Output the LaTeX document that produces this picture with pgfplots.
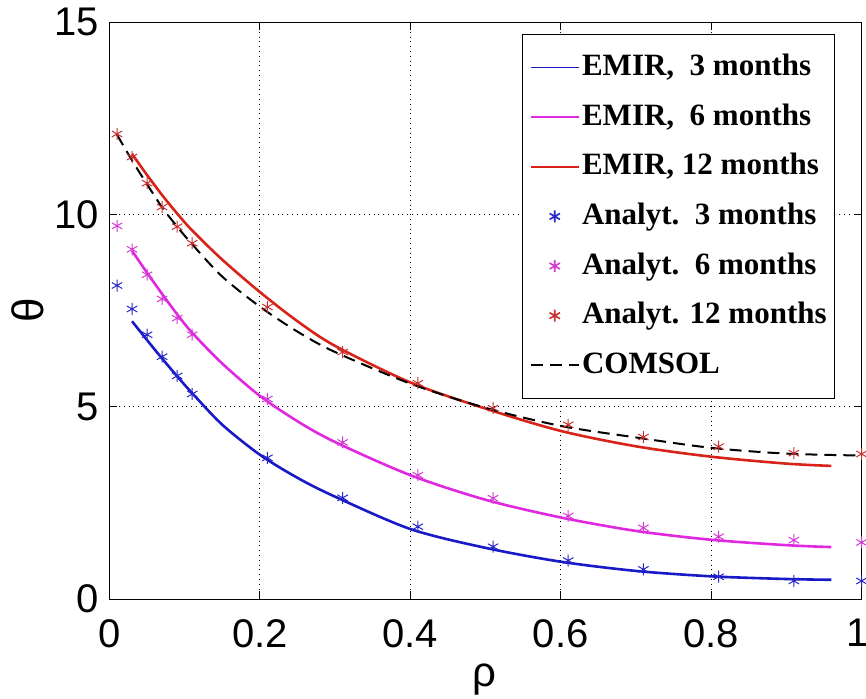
\documentclass[border=0pt]{standalone}
\usepackage{fontspec}
\setmainfont{Liberation Sans}
\newfontfamily\legfont{Liberation Serif}
\usepackage{pgfplots}
\pgfplotsset{compat=1.18}
\definecolor{eblue}{RGB}{25,25,200}
\definecolor{emag}{RGB}{225,40,225}
\definecolor{ered}{RGB}{215,35,25}
\definecolor{sblue}{RGB}{40,40,200}
\definecolor{smag}{RGB}{210,60,210}
\definecolor{sred}{RGB}{200,50,50}
\begin{document}
\begin{tikzpicture}
\useasboundingbox (-54.75pt,-49.5pt) rectangle (378.25pt,299.5pt);
\begin{axis}[
  at={(0,0)}, anchor=south west,
  scale only axis, width=376pt, height=288.5pt,
  xmin=0, xmax=1, ymin=0, ymax=15,
  xtick={0,0.2,0.4,0.6,0.8,1}, ytick={0,5,10,15},
  xticklabels={0,0.2,0.4,0.6,0.8,\makebox[0pt][c]{\hspace{-4pt}1}},
  grid=major, grid style={dotted, black, line width=0.5pt},
  tick align=inside, major tick length=4pt,
  axis line style={line width=0.5pt},
  tick style={black, line width=0.5pt},
  /pgf/number format/assume math mode=true,
  ticklabel style={font=\fontsize{20}{20}\selectfont},
  xticklabel style={inner sep=0pt, anchor=north, yshift=-10pt},
  yticklabel style={inner sep=0pt, anchor=east, xshift=-5pt},
  xlabel={ρ}, ylabel={θ},
  xlabel style={font=\fontsize{21}{21}\selectfont, at={(axis description cs:0.498,-0.14)}, anchor=center},
  ylabel style={font=\fontsize{22}{22}\selectfont, at={(axis description cs:-0.109,0.5)}, anchor=center},
  legend style={at={(0.5485,0.979)}, anchor=north west, draw=black, line width=0.5pt,
    font=\legfont\bfseries\fontsize{15.5}{15.5}\selectfont,
    inner xsep=4pt, inner ysep=9.5pt, row sep=10.8pt,
    nodes={inner sep=0pt, text height=11pt, text depth=3pt},
    /tikz/every odd column/.append style={column sep=1.5pt}},
  legend cell align=left,
  legend image code/.code={\draw[mark repeat=2,mark phase=2,#1] plot coordinates {(0pt,0pt) (11.75pt,0pt) (23.5pt,0pt)};},
  legend image post style={line width=0.8pt},
]
\addplot[eblue, line width=1.3pt, smooth] coordinates {
(0.03,7.22) (0.05,6.73) (0.07,6.25) (0.09,5.79) (0.11,5.35) (0.15,4.53) (0.2,3.75) (0.25,3.15) (0.3,2.66) (0.4,1.82) (0.5,1.33) (0.6,0.97) (0.7,0.73) (0.8,0.59) (0.9,0.52) (0.96,0.50)};
\addlegendentry{EMIR,\ \ 3 months}
\addplot[emag, line width=1.3pt, smooth] coordinates {
(0.03,9.05) (0.05,8.48) (0.07,7.93) (0.09,7.40) (0.11,6.92) (0.15,6.12) (0.2,5.28) (0.25,4.62) (0.3,4.08) (0.4,3.22) (0.5,2.58) (0.6,2.12) (0.7,1.77) (0.8,1.54) (0.9,1.40) (0.96,1.35)};
\addlegendentry{EMIR,\ \ 6 months}
\addplot[ered, line width=1.3pt, smooth] coordinates {
(0.03,11.57) (0.05,11.02) (0.07,10.50) (0.09,10.02) (0.11,9.58) (0.15,8.82) (0.2,7.98) (0.25,7.22) (0.3,6.58) (0.4,5.63) (0.5,4.95) (0.6,4.37) (0.7,3.97) (0.8,3.70) (0.9,3.52) (0.96,3.46)};
\addlegendentry{EMIR, 12 months}
\addplot[sblue, only marks, mark=asterisk, mark size=3pt, line width=0.5pt] coordinates {
(0.01,8.15) (0.03,7.54) (0.05,6.87) (0.07,6.30) (0.09,5.80) (0.11,5.33) (0.21,3.67) (0.31,2.63) (0.41,1.88) (0.51,1.36) (0.61,1.00) (0.71,0.77) (0.81,0.58) (0.91,0.47) (1.0,0.47)};
\addlegendentry{Analyt.\ \ 3 months}
\addplot[smag, only marks, mark=asterisk, mark size=3pt, line width=0.5pt] coordinates {
(0.01,9.70) (0.03,9.09) (0.05,8.43) (0.07,7.80) (0.09,7.30) (0.11,6.87) (0.21,5.20) (0.31,4.07) (0.41,3.22) (0.51,2.62) (0.61,2.16) (0.71,1.85) (0.81,1.62) (0.91,1.53) (1.0,1.47)};
\addlegendentry{Analyt.\ \ 6 months}
\addplot[sred, only marks, mark=asterisk, mark size=3pt, line width=0.5pt] coordinates {
(0.01,12.09) (0.03,11.49) (0.05,10.81) (0.07,10.19) (0.09,9.68) (0.11,9.25) (0.21,7.59) (0.31,6.42) (0.41,5.61) (0.51,4.96) (0.61,4.53) (0.71,4.21) (0.81,3.96) (0.91,3.79) (1.0,3.77)};
\addlegendentry{Analyt. 12 months}
\addplot[black, line width=1pt, dash pattern=on 6pt off 3.5pt, smooth] coordinates {
(0.01,12.07) (0.03,11.40) (0.05,10.78) (0.07,10.18) (0.09,9.68) (0.11,9.22) (0.15,8.38) (0.2,7.60) (0.25,6.95) (0.3,6.42) (0.4,5.60) (0.5,4.97) (0.6,4.50) (0.7,4.20) (0.8,3.93) (0.9,3.78) (1.0,3.73)};
\addlegendentry{COMSOL}
\end{axis}
\end{tikzpicture}
\end{document}
